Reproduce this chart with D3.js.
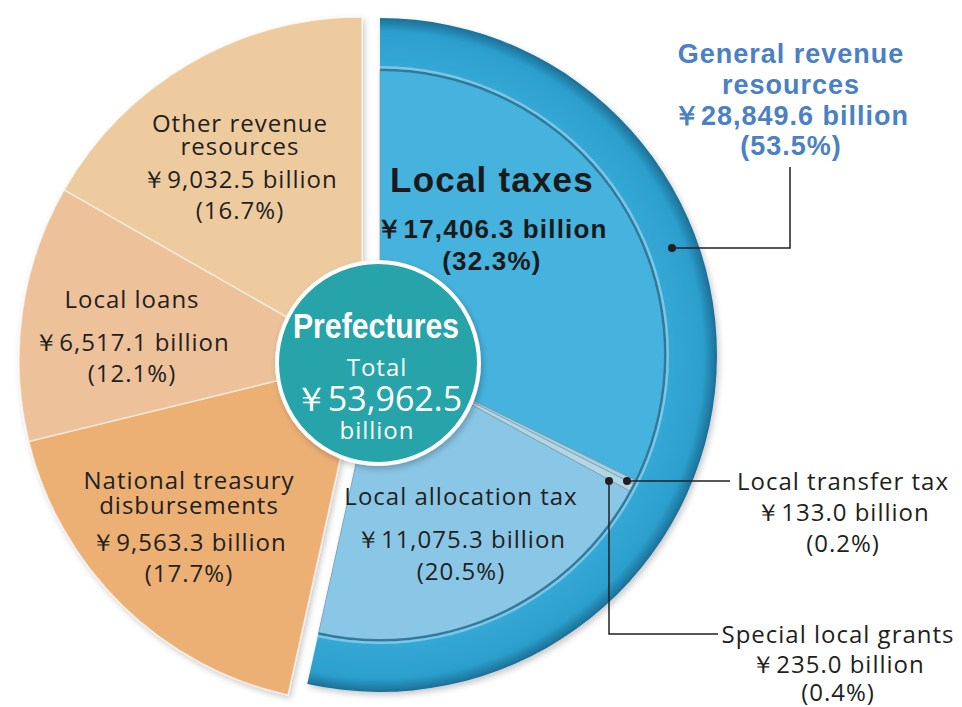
<!DOCTYPE html>
<html><head><meta charset="utf-8">
<script src="https://cdn.jsdelivr.net/npm/d3@7"></script>
<style>
body{margin:0;background:#fff;}
svg{display:block;}
</style></head>
<body>
<svg id="chart" width="962" height="707"></svg>
<script>
// ---- data ----
const categories = ["Local taxes","Local transfer tax","Special local grants","Local allocation tax",
                    "National treasury disbursements","Local loans","Other revenue resources"];
const values = [17406.3, 133.0, 235.0, 11075.3, 9563.3, 6517.1, 9032.5];
const groups = ["general","general","general","general","other","other","other"];
const groupLabel = "General revenue resources";
const totalLabel = "Prefectures";

const total = d3.sum(values);
const generalTotal = d3.sum(values.filter((v,i)=>groups[i]==="general"));
const yen = v => "\uFFE5" + d3.format(",.1f")(v) + " billion";
const pct = v => "(" + d3.format(".1%")(v/total) + ")";

const svg = d3.select("#chart");
const defs = svg.append("defs");
const f = defs.append("filter").attr("id","shadow").attr("x","-10%").attr("y","-10%").attr("width","120%").attr("height","120%");
f.append("feDropShadow").attr("dx",2).attr("dy",3).attr("stdDeviation",3).attr("flood-color","#000").attr("flood-opacity",0.22);

const ringGrad = defs.append("radialGradient").attr("id","ringGrad").attr("gradientUnits","userSpaceOnUse")
  .attr("cx",0).attr("cy",0).attr("r",337);
ringGrad.append("stop").attr("offset","84%").attr("stop-color","#36a9d6");
ringGrad.append("stop").attr("offset","96%").attr("stop-color","#2c9fcd");
ringGrad.append("stop").attr("offset","100%").attr("stop-color","#1c6f96");

const colors = {
  "Local taxes":"#46b3df",
  "Local transfer tax":"#a8cfde",
  "Special local grants":"#b4d6e3",
  "Local allocation tax":"#8ac6e6",
  "National treasury disbursements":"#ecb075",
  "Local loans":"#edc199",
  "Other revenue resources":"#eecb9f"
};

const pie = d3.pie().sort(null).value(d=>d.value)(categories.map((c,i)=>({cat:c,value:values[i],group:groups[i]})));

const blueC = [380,355], orangeC = [362,360];
const rOrange = 343, rRingOuter = 337, rInner = 285;

// ---- orange side ----
const og = svg.append("g").attr("transform",`translate(${orangeC})`).attr("filter","url(#shadow)");
const arcO = d3.arc().innerRadius(0).outerRadius(rOrange);
og.selectAll("path").data(pie.filter(d=>d.data.group==="other")).join("path")
  .attr("d",arcO).attr("fill",d=>colors[d.data.cat])
  .attr("stroke","rgba(255,255,255,0.55)").attr("stroke-width",1.5);

// ---- blue side ----
const bg = svg.append("g").attr("transform",`translate(${blueC})`);
const gStart = d3.min(pie.filter(d=>d.data.group==="general"),d=>d.startAngle);
const gEnd = d3.max(pie.filter(d=>d.data.group==="general"),d=>d.endAngle);
bg.append("path").attr("filter","url(#shadow)")
  .attr("d",d3.arc().innerRadius(0).outerRadius(rRingOuter).startAngle(gStart).endAngle(gEnd)())
  .attr("fill","url(#ringGrad)");
const arcI = d3.arc().innerRadius(0).outerRadius(rInner);
bg.selectAll("path.inner").data(pie.filter(d=>d.data.group==="general")).join("path")
  .attr("class","inner").attr("d",arcI).attr("fill",d=>colors[d.data.cat])
  .attr("stroke","rgba(120,150,165,0.6)").attr("stroke-width",1);
// inner rim line + highlight
bg.append("path").attr("d",d3.arc().innerRadius(rInner-1).outerRadius(rInner+1.5).startAngle(gStart).endAngle(gEnd)())
  .attr("fill","#2a6e8c").attr("opacity",0.8);
bg.append("path").attr("d",d3.arc().innerRadius(rInner+1.5).outerRadius(rInner+4).startAngle(gStart).endAngle(gEnd)())
  .attr("fill","#9ad3ec").attr("opacity",0.7);

// ---- centre circle ----
svg.append("circle").attr("cx",378).attr("cy",363).attr("r",101)
  .attr("fill","#25a4a9").attr("stroke","#fff").attr("stroke-width",4).attr("filter","url(#shadow)");
const ct = svg.append("g").attr("text-anchor","middle").attr("fill","#fff");
ct.append("text").attr("x",376).attr("y",338).text(totalLabel)
  .attr("font-family","'Liberation Sans',Arial,sans-serif")
  .attr("font-weight","bold").attr("font-size",35)
  .attr("textLength",166).attr("lengthAdjust","spacingAndGlyphs");
ct.append("text").attr("x",377).attr("y",376).text("Total").attr("font-family","'Open Sans',sans-serif").attr("font-size",24).attr("letter-spacing",1);
ct.append("text").attr("x",378).attr("y",411).text("\uFFE5" + d3.format(",.1f")(total)).attr("font-family","'Open Sans',sans-serif").attr("font-size",34);
ct.append("text").attr("x",377).attr("y",439).text("billion").attr("font-family","'Open Sans',sans-serif").attr("font-size",24).attr("letter-spacing",1);

// ---- labels ----
const reg = "'Open Sans',sans-serif";
function block(x, lines, opts){
  const t = svg.append("text").attr("text-anchor","middle").attr("font-family",opts.font||reg)
    .attr("font-size",opts.size||24).attr("fill",opts.fill||"#231f20").attr("font-weight",opts.weight||"normal")
    .attr("letter-spacing",opts.ls!=null?opts.ls:1);
  lines.forEach(l=>{
    t.append("tspan").attr("x",x).attr("y",l[1]).text(l[0]).attr("font-size",l[2]||null);
  });
}
const byCat = c => values[categories.indexOf(c)];

block(240,[["Other revenue",132],["resources",155],[yen(byCat("Other revenue resources")),188],[pct(byCat("Other revenue resources")),219]],{});
block(132,[["Local loans",308],[yen(byCat("Local loans")),351],[pct(byCat("Local loans")),382]],{});
block(189,[["National treasury",489],["disbursements",514],[yen(byCat("National treasury disbursements")),551],[pct(byCat("National treasury disbursements")),582]],{});
block(461,[["Local allocation tax",505],[yen(byCat("Local allocation tax")),548],[pct(byCat("Local allocation tax")),580]],{});

const bold = "'Liberation Sans',Arial,sans-serif";
block(492,[["Local taxes",192,35],[yen(byCat("Local taxes")),238,26],[pct(byCat("Local taxes")),270,26]],{font:bold,weight:"bold",fill:"#1a1a1a",ls:1.2});
block(791,[["General revenue",63],["resources",94],[yen(generalTotal),125],["(" + d3.format(".1%")(generalTotal/total) + ")",155]],{font:bold,weight:"bold",fill:"#4a80c4",size:27,ls:1});

block(843,[["Local transfer tax",490],[yen(byCat("Local transfer tax")),521],[pct(byCat("Local transfer tax")),552]],{});
block(838,[["Special local grants",643],[yen(byCat("Special local grants")),673],[pct(byCat("Special local grants")),701]],{});

// ---- leaders ----
const lg = svg.append("g").attr("fill","none").attr("stroke","#231f20").attr("stroke-width",1.5);
lg.append("path").attr("d","M790,167V248H672");
lg.append("path").attr("d","M627,481H730");
lg.append("path").attr("d","M609,481V634H718");
const dots = [[672,248],[627,481],[609,481]];
svg.selectAll("circle.dot").data(dots).join("circle").attr("class","dot")
  .attr("cx",d=>d[0]).attr("cy",d=>d[1]).attr("r",4).attr("fill","#231f20");
</script>
</body></html>
